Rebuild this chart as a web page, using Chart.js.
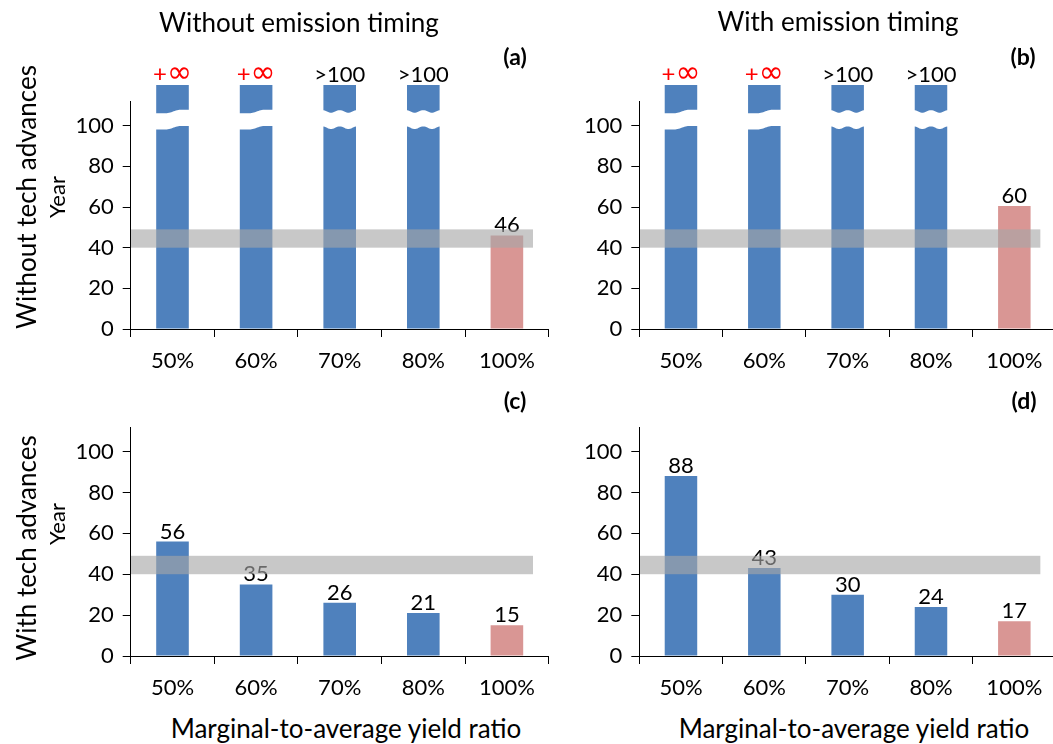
<!DOCTYPE html>
<html>
<head>
<meta charset="utf-8">
<script src="https://cdn.jsdelivr.net/npm/chart.js@4.4.1/dist/chart.umd.min.js"></script>
<style>
  html, body { margin: 0; padding: 0; background: #fff; }
  body { width: 1053px; height: 744px; overflow: hidden; position: relative;
         font-family: Lato, "Open Sans", sans-serif; color: #000; }
  canvas { position: absolute; }
  .t { position: absolute; white-space: nowrap; line-height: 1; transform: translate(-50%, -50%); }
  .rot { transform: translate(-50%, -50%) rotate(-90deg); }
  .title { font-size: 26px; }
  .tag { font-size: 23px; font-weight: bold; }
  .year { font-size: 22px; }
</style>
</head>
<body>
<canvas id="ca" width="560" height="372" style="left:0;top:0"></canvas>
<canvas id="cb" width="500" height="372" style="left:560px;top:0"></canvas>
<canvas id="cc" width="560" height="330" style="left:0;top:372px"></canvas>
<canvas id="cd" width="500" height="330" style="left:560px;top:372px"></canvas>

<div class="t title" style="left:299px;top:22px">Without emission timing</div>
<div class="t title" style="left:838px;top:21px">With emission timing</div>
<div class="t tag" style="left:515px;top:56px">(a)</div>
<div class="t tag" style="left:1023px;top:56px">(b)</div>
<div class="t tag" style="left:515px;top:400px">(c)</div>
<div class="t tag" style="left:1024px;top:400px">(d)</div>
<div class="t title rot" style="left:26px;top:197px">Without tech advances</div>
<div class="t title rot" style="left:26px;top:548px">With tech advances</div>
<div class="t year rot" style="left:57px;top:197px">Year</div>
<div class="t year rot" style="left:57px;top:524px">Year</div>
<div class="t title" style="left:346px;top:728px">Marginal-to-average yield ratio</div>
<div class="t title" style="left:854px;top:728px">Marginal-to-average yield ratio</div>

<script>
// ---------- data ----------
const categories = ['50%', '60%', '70%', '80%', '100%'];
const yTickValues = [0, 20, 40, 60, 80, 100];
const yAxisMax = 112;
const targetBand = [40, 49];          // grey band (years)
const breakRange = [99, 107];         // axis-break gap on off-scale bars
// off-scale bars are drawn to 120 and cut by a break
const valuesA = [120, 120, 120, 120, 46];
const labelsA = ['+∞', '+∞', '>100', '>100', '46'];
const valuesB = [120, 120, 120, 120, 60.5];
const labelsB = ['+∞', '+∞', '>100', '>100', '60'];
const valuesC = [56, 35, 26, 21, 15];
const labelsC = ['56', '35', '26', '21', '15'];
const valuesD = [88, 43, 30, 24, 17];
const labelsD = ['88', '43', '30', '24', '17'];

// ---------- styles ----------
const BLUE = '#4F81BD';
const PINK = '#D99694';
const RED = '#FF0000';
const TEXT = '#000000';
const BAND = 'rgba(167,167,167,0.625)';
const FONT = 'Lato, "Open Sans", sans-serif';
const tickFont = { family: FONT, size: 22 };

function clamp01(v) { return Math.max(0, Math.min(1, v)); }

const barExtras = {
  id: 'barExtras',
  afterDatasetsDraw(chart, args, opts) {
    const ctx = chart.ctx;
    const meta = chart.getDatasetMeta(0);
    const ys = chart.scales.y;
    const values = chart.data.datasets[0].data;
    const labels = opts.labels;
    ctx.save();
    meta.data.forEach((bar, i) => {
      const inf = labels[i] === '+∞';
      if (values[i] > yAxisMax) {
        const half = bar.width / 2 + 1;
        const x0 = bar.x - half, x1 = bar.x + half;
        const yHi = ys.getPixelForValue(breakRange[1]);
        const yLo = ys.getPixelForValue(breakRange[0]);
        const wave = inf
          ? t => 1.8 * Math.cos(Math.PI * clamp01((t - 0.3) / 0.45))
          : t => -1.3 * Math.cos(4 * Math.PI * t);
        ctx.beginPath();
        for (let k = 0; k <= 30; k++) { const t = k / 30; ctx.lineTo(x0 + t * (x1 - x0), yHi + wave(t)); }
        for (let k = 30; k >= 0; k--) { const t = k / 30; ctx.lineTo(x0 + t * (x1 - x0), yLo + wave(t)); }
        ctx.closePath();
        ctx.fillStyle = '#fff';
        ctx.fill();
      }
      ctx.textBaseline = 'alphabetic';
      const by = bar.y - 3;
      if (inf) {
        // "+" and "∞" drawn as real text, with a wider infinity glyph
        const plus = labels[i].charAt(0), infin = labels[i].slice(1);
        const fPlus = '24px ' + FONT, fInf = '30px "DejaVu Sans", sans-serif';
        ctx.font = fPlus; const wp = ctx.measureText(plus).width;
        ctx.font = fInf; const wi = ctx.measureText(infin).width;
        const x0 = bar.x - (wp + wi) / 2;
        ctx.fillStyle = RED;
        ctx.textAlign = 'left';
        ctx.font = fPlus; ctx.fillText(plus, x0, by);
        ctx.font = fInf; ctx.fillText(infin, x0 + wp, by);
      } else {
        ctx.font = '22px ' + FONT;
        ctx.textAlign = 'center';
        ctx.fillStyle = TEXT;
        ctx.fillText(labels[i], bar.x, by);
      }
    });
    const top = ys.getPixelForValue(targetBand[1]);
    const bot = ys.getPixelForValue(targetBand[0]);
    const last = meta.data[meta.data.length - 1];
    const left = chart.chartArea.left;
    const right = last.x + last.width * 0.8;
    ctx.fillStyle = BAND;
    ctx.fillRect(left, top, right - left, bot - top);
    ctx.restore();
  }
};

function makeChart(id, values, labels, box) {
  return new Chart(document.getElementById(id), {
    type: 'bar',
    data: {
      labels: categories,
      datasets: [{
        data: values,
        backgroundColor: c => (c.dataIndex === categories.length - 1 ? PINK : BLUE),
        borderWidth: 0,
        barPercentage: 0.39,
        categoryPercentage: 1,
        clip: false
      }]
    },
    options: {
      responsive: false,
      animation: false,
      events: [],
      layout: { padding: { top: box.top, right: box.right, left: 0, bottom: 0 } },
      plugins: { legend: { display: false }, tooltip: { enabled: false }, barExtras: { labels } },
      scales: {
        x: {
          grid: { display: true, drawOnChartArea: false, drawTicks: true, tickLength: 8, color: '#000', offset: true },
          border: { display: true, color: '#000', width: 1, z: 1 },
          ticks: { font: tickFont, color: TEXT, padding: 11, maxRotation: 0, autoSkip: false },
          afterFit: a => { a.height = box.xh; }
        },
        y: {
          min: 0, max: yAxisMax,
          grid: { display: true, drawOnChartArea: false, drawTicks: true, tickLength: 8, color: '#000' },
          border: { display: true, color: '#000', width: 1, z: 1 },
          ticks: { font: tickFont, color: TEXT, padding: 9 },
          afterBuildTicks: a => { a.ticks = yTickValues.map(v => ({ value: v })); },
          afterFit: a => { a.width = box.yw; }
        }
      }
    },
    plugins: [barExtras]
  });
}

makeChart('ca', valuesA, labelsA, { top: 101.3, right: 11.3, xh: 43, yw: 130.7 });
makeChart('cb', valuesB, labelsB, { top: 101.3, right: 4, xh: 43, yw: 79.3 });
makeChart('cc', valuesC, labelsC, { top: 55, right: 11.3, xh: 46, yw: 130.7 });
makeChart('cd', valuesD, labelsD, { top: 55, right: 4, xh: 46, yw: 79.3 });
</script>
</body>
</html>
